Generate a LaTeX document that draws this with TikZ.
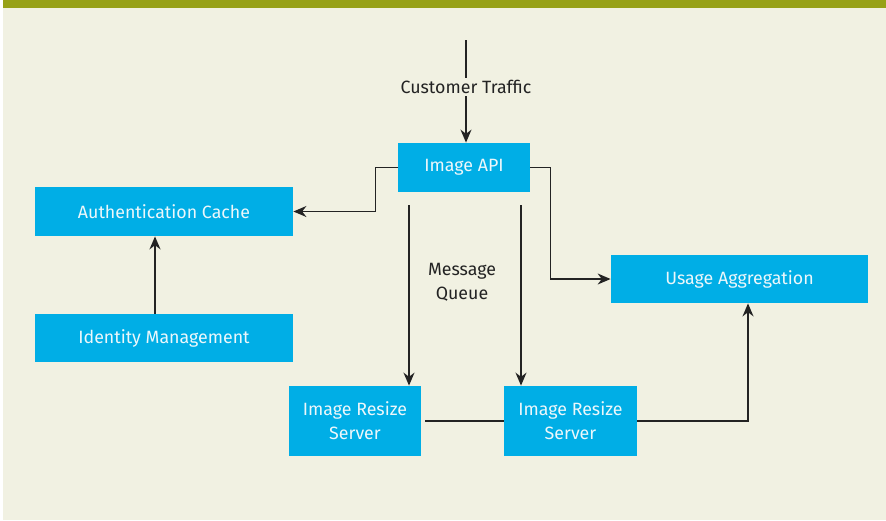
\documentclass[tikz,border=0pt]{standalone}
\usepackage{fontspec}
\setmainfont{Fira Sans}
\usetikzlibrary{arrows.meta}
\definecolor{boxblue}{RGB}{0,174,230}
\definecolor{boxtext}{RGB}{236,247,251}
\definecolor{paper}{RGB}{241,241,226}
\definecolor{barolive}{RGB}{151,161,23}
\definecolor{ink}{RGB}{35,35,35}
\tikzset{
  box/.style={fill=boxblue, text=boxtext, align=center, inner sep=0pt,
    font=\fontsize{8.9}{12}\selectfont},
  lbl/.style={text=ink, align=center, inner sep=1pt, font=\fontsize{8.9}{12}\selectfont},
  wire/.style={draw=ink, line width=0.75pt}
}
\begin{document}
\begin{tikzpicture}[x=0.5pt,y=-0.5pt,>={Stealth[length=6.5pt,width=5.5pt]}]
            \useasboundingbox (0,0) rectangle (886,520);
            \fill[white] (0,0) rectangle (886,520);
            \fill[paper] (3,8) rectangle (886,520);
            \fill[barolive] (3,0) rectangle (886,8);

            \node[box, minimum width=66pt, minimum height=24.5pt] (api) at (464,167.5) {Image API};
            \node[box, minimum width=129pt, minimum height=24.5pt] (auth) at (164,211.5) {Authentication Cache};
            \node[box, minimum width=129pt, minimum height=24pt] (idm) at (164,338) {Identity Management};
            \node[box, minimum width=128.5pt, minimum height=24pt] (usage) at (739.5,279) {Usage Aggregation};
            \node[box, minimum width=66pt, minimum height=35pt] (rs1) at (355,421) {Image Resize\\Server};
            \node[box, minimum width=66.5pt, minimum height=35pt] (rs2) at (570.5,421) {Image Resize\\Server};

            \coordinate (in) at (466,40);
            \coordinate (q1) at (409,205); \coordinate (q2) at (521,205);

            \draw[wire,->] (in) -- node[lbl, fill=paper, pos=0.46] {Customer Traffic} (in |- api.north);
            \draw[wire,->] (api.west) -- ++(-22,0) |- (auth.east);
            \draw[wire,->] (api.east) -- ++(20,0) |- (usage.west);
            \draw[wire,->] (q1) -- (q1 |- rs1.north);
            \draw[wire,->] (q2) -- (q2 |- rs2.north);
            \draw[wire,->] (idm.north -| 155,0) -- (auth.south -| 155,0);
            \draw[wire] ([xshift=2pt]rs1.east) -- (rs2.west);
            \draw[wire,->] (rs2.east) -| (usage.south -| 748,0);
            \node[lbl] (mq) at (462,282) {Message\\Queue};
        \end{tikzpicture}
\end{document}
